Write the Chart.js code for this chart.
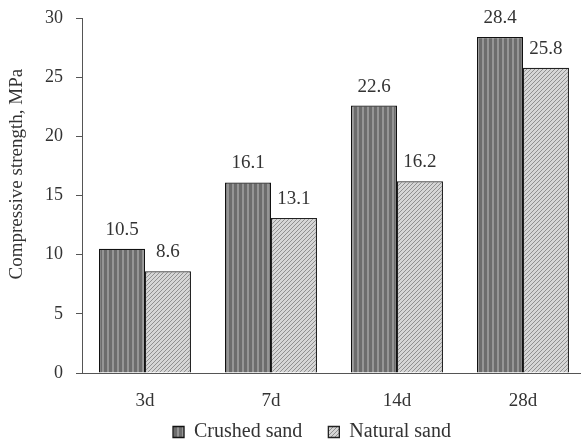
<!DOCTYPE html>
<html>
<head>
<meta charset="utf-8">
<script src="https://cdn.jsdelivr.net/npm/chart.js@4.4.0/dist/chart.umd.min.js"></script>
<style>
  html, body { margin: 0; padding: 0; background: #fff; overflow: hidden; }
  #wrap { width: 581px; height: 444px; overflow: hidden; }
</style>
</head>
<body>
<div id="wrap"><canvas id="Chart" width="586" height="444"></canvas></div>
<script>
const ages = ["3d", "7d", "14d", "28d"];
const crushedSand = [10.5, 16.1, 22.6, 28.4];
const naturalSand = [8.6, 13.1, 16.2, 25.8];
const yTicks = [0, 5, 10, 15, 20, 25, 30];

function stripes() {
    var c = document.createElement("canvas");
    c.width = 5; c.height = 5;
    var g = c.getContext("2d");
    g.fillStyle = "#6c6c6c";
    g.fillRect(0, 0, 5, 5);
    g.fillStyle = "#959595";
    g.fillRect(2, 0, 2, 5);
    return g.createPattern(c, "repeat");
}

function hatch() {
    var c = document.createElement("canvas");
    c.width = 4; c.height = 4;
    var g = c.getContext("2d");
    g.fillStyle = "#d6d6d6";
    g.fillRect(0, 0, 4, 4);
    g.strokeStyle = "#909090";
    g.lineWidth = 1;
    g.beginPath();
    g.moveTo(0, 4); g.lineTo(4, 0);
    g.moveTo(-1, 1); g.lineTo(1, -1);
    g.moveTo(3, 5); g.lineTo(5, 3);
    g.stroke();
    return g.createPattern(c, "repeat");
}

const labelsPlugin = {
    id: "barLabels",
    afterLayout(chart) {
        // legend: a bit right of centre, and its item gap is wider than its top margin
        chart.legend.left += 16;
        chart.legend.right += 16;
        chart.legend.top -= 17;
    },
    afterDatasetsDraw(chart) {
        var ctx = chart.ctx;
        ctx.save();
        ctx.font = "19px 'Liberation Serif'";
        ctx.fillStyle = "#333";
        ctx.textAlign = "center";
        ctx.textBaseline = "middle";
        chart.data.datasets.forEach(function (ds, i) {
            chart.getDatasetMeta(i).data.forEach(function (bar, j) {
                ctx.fillText(ds.data[j].toFixed(1), bar.x, bar.y - 19);
            });
        });
        ctx.restore();
    }
};

Chart.defaults.font.family = "'Liberation Serif', serif";
Chart.defaults.color = "#333";

new Chart(document.getElementById("Chart"), {
    type: "bar",
    data: {
        labels: ages,
        datasets: [{
            label: "Crushed sand",
            data: crushedSand,
            backgroundColor: stripes(),
            borderColor: "#111",
            borderWidth: 1.3,
            barPercentage: 1,
            categoryPercentage: 0.73
        }, {
            label: "Natural sand",
            data: naturalSand,
            backgroundColor: hatch(),
            borderColor: "#222",
            borderWidth: 1.3,
            barPercentage: 1,
            categoryPercentage: 0.73
        }]
    },
    options: {
        responsive: false,
        animation: false,
        layout: { padding: { top: 18, right: 0, left: 6, bottom: 0 } },
        plugins: {
            tooltip: { enabled: false },
            legend: {
                position: "bottom",
                maxHeight: 31,
                labels: {
                    boxWidth: 11,
                    boxHeight: 11,
                    padding: 26,
                    font: { size: 20 },
                    color: "#333"
                }
            }
        },
        scales: {
            x: {
                afterFit: function (axis) { axis.height = 40; },
                grid: { display: false },
                border: { color: "#555", width: 1 },
                ticks: { padding: 9, font: { size: 19 } }
            },
            y: {
                min: 0,
                max: 30,
                afterBuildTicks: function (axis) {
                    axis.ticks = yTicks.map(function (v) { return { value: v }; });
                },
                afterFit: function (axis) {
                    axis.width = 76;
                    axis.paddingTop = 0;
                },
                grid: { display: true, drawOnChartArea: false, drawTicks: true, tickLength: 6, color: "#555" },
                border: { color: "#555", width: 1 },
                ticks: { padding: 13, font: { size: 18 } },
                title: {
                    display: true,
                    text: "         Compressive strength, MPa",
                    font: { size: 19 },
                    color: "#333",
                    padding: 0
                }
            }
        }
    },
    plugins: [labelsPlugin]
});
</script>
</body>
</html>
